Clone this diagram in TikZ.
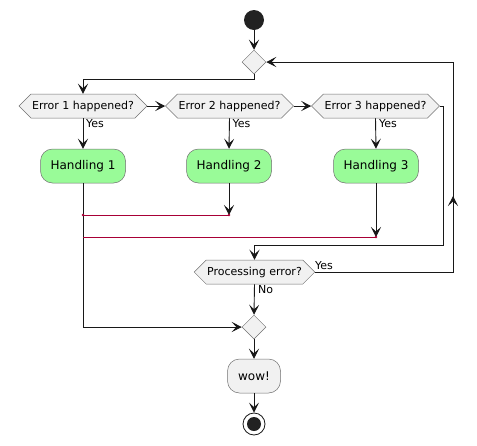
\documentclass[tikz,border=0pt]{standalone}
\usepackage{fontspec}
\setmainfont{DejaVu Sans}
\usetikzlibrary{shapes.geometric,shapes.symbols,arrows.meta}
\definecolor{actbg}{HTML}{F1F1F1}
\definecolor{actline}{HTML}{181818}
\definecolor{hexline}{HTML}{707070}
\definecolor{greenbox}{HTML}{99FB98}
\definecolor{redline}{HTML}{A80036}
\definecolor{startc}{HTML}{222222}
\tikzset{
  conn/.style={line width=0.9pt, draw=actline},
  arr/.style={conn, -{Stealth[length=10pt,width=10pt,inset=4.5pt]}},
  redconn/.style={line width=0.9pt, draw=redline},
  reddot/.style={circle, fill=redline, inner sep=0pt, minimum size=2.8pt},
  hexa/.style={signal, signal to=west and east, signal pointer angle=90, draw=hexline, fill=actbg, line width=0.5pt, minimum height=24pt, inner xsep=1pt, inner ysep=0pt, font=\fontsize{11}{13}\selectfont},
  mergebox/.style={diamond, draw=hexline, fill=actbg, line width=0.5pt, minimum width=24pt, minimum height=24pt, inner sep=0pt},
  handbox/.style={rectangle, rounded corners=12pt, draw=hexline, fill=greenbox, line width=0.5pt, minimum width=85pt, minimum height=34pt, font=\fontsize{12}{14}\selectfont},
  wowbox/.style={rectangle, rounded corners=12pt, draw=hexline, fill=actbg, line width=0.5pt, minimum width=53pt, minimum height=34pt, font=\fontsize{12}{14}\selectfont},
  lbl/.style={inner sep=0pt, anchor=west, font=\fontsize{11}{13}\selectfont},
}
\begin{document}
\begin{tikzpicture}[x=1pt,y=-1pt]
\useasboundingbox (0,0) rectangle (477,445);
% nodes
\node[circle, fill=startc, minimum size=20pt, inner sep=0pt] (start) at (254,20) {};
\node[mergebox] (m1) at (254,62) {};
\node[hexa] (e1) at (83,106) {Error 1 happened?};
\node[hexa] (e2) at (229.5,106) {Error 2 happened?};
\node[hexa] (e3) at (375.5,106) {Error 3 happened?};
\node[handbox] (h1) at (83,166) {Handling 1};
\node[handbox] (h2) at (229,166) {Handling 2};
\node[handbox] (h3) at (376,166) {Handling 3};
\node[hexa] (pe) at (254.5,272) {Processing error?};
\node[mergebox] (m2) at (254,327) {};
\node[wowbox] (wow) at (254,376) {wow!};
\node[circle, draw=actline, line width=0.8pt, fill=white, minimum size=22pt, inner sep=0pt] (stop) at (254,424) {};
\node[circle, fill=startc, minimum size=14pt, inner sep=0pt] at (stop) {};
% coordinates
\coordinate (r1l) at (83,215);
\coordinate (r1r) at (229,215);
\coordinate (r2l) at (83,237);
\coordinate (r2r) at (376,237);
\coordinate (loopx) at (453,272);
\coordinate (loopy) at (453,62);
% connectors
\draw[arr] (start) -- (m1);
\draw[arr] (m1.south) -- (254,79) -| (e1.north);
\draw[arr] (e1.east) -- (e2.west);
\draw[arr] (e2.east) -- (e3.west);
\draw[arr] (e1.south) -- (h1.north);
\draw[arr] (e2.south) -- (h2.north);
\draw[arr] (e3.south) -- (h3.north);
\node[lbl] at (86,124) {Yes};
\node[lbl] at (232.5,124) {Yes};
\node[lbl] at (379,124) {Yes};
\draw[arr] (h1.south) |- (m2.west);
\draw[arr] (h2.south) -- (r1r);
\draw[arr] (h3.south) -- (r2r);
\draw[redconn] (r1l) -- (r1r);
\draw[redconn] (r2l) -- (r2r);
\node[reddot] at (r1l) {};
\node[reddot] at (r1r) {};
\node[reddot] at (r2r) {};
\draw[arr] (e3.east) -- (443,106) -- (443,245) -| (pe.north);
\draw[conn] (pe.east) -- (loopx) -- (loopy);
\draw[arr] (loopy) -- (m1.east);
\draw[arr] (loopx) -- (453,196);
\node[lbl, anchor=south west] at (315,270) {Yes};
\draw[arr] (pe.south) -- (m2.north);
\node[lbl] at (258,290) {No};
\draw[arr] (m2.south) -- (wow.north);
\draw[arr] (wow.south) -- (stop.north);
\end{tikzpicture}
\end{document}
